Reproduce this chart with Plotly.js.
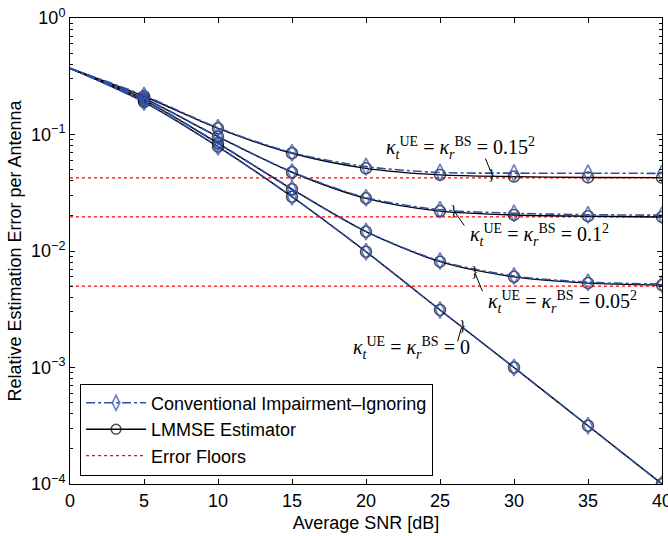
<!DOCTYPE html>
<html><head><meta charset="utf-8">
<script src="https://cdn.plot.ly/plotly-3.0.1.min.js"></script>
<style>html,body{margin:0;padding:0;background:#fff}</style>
</head><body><div id="chart" style="width:668px;height:536px"></div>
<script>
// ---- data ----
const snr = [0, 5, 10, 15, 20, 25, 30, 35, 40];

const lmmseK0    = [0.37, 0.190, 0.0786, 0.0292, 0.00986, 0.00312, 0.00100, 0.000316, 0.000100];
const convK0     = [0.37, 0.190, 0.0786, 0.0292, 0.00986, 0.00312, 0.00100, 0.000316, 0.000100];
const lmmseK005  = [0.37, 0.197, 0.0840, 0.0339, 0.01465, 0.00810, 0.00600, 0.00530, 0.00510];
const convK005   = [0.37, 0.198, 0.0845, 0.0340, 0.01470, 0.00820, 0.00610, 0.00540, 0.00520];
const lmmseK01   = [0.37, 0.204, 0.0957, 0.0474, 0.0283, 0.0220, 0.0204, 0.0199, 0.0196];
const convK01    = [0.37, 0.205, 0.0960, 0.0477, 0.0287, 0.0226, 0.0211, 0.0205, 0.0203];
const lmmseK015  = [0.37, 0.213, 0.1130, 0.0690, 0.0512, 0.0450, 0.0435, 0.0428, 0.0426];
const convK015   = [0.37, 0.216, 0.1140, 0.0698, 0.0530, 0.0472, 0.0466, 0.0465, 0.0464];

const floors = [0.0425, 0.0196, 0.0050];

const xTickVals = [0, 5, 10, 15, 20, 25, 30, 35, 40];
const yTickVals = [1e-4, 1e-3, 1e-2, 1e-1, 1];
const yTickText = ['10<sup>−4</sup>', '10<sup>−3</sup>', '10<sup>−2</sup>', '10<sup>−1</sup>', '10<sup>0</sup>'];

const legendNames = ['Conventional Impairment–Ignoring', 'LMMSE Estimator', 'Error Floors'];

// annotation labels and where they point
const labelTexts = [
  '<i>κ</i><sub><i>t</i></sub><sup>UE</sup> = <i>κ</i><sub><i>r</i></sub><sup>BS</sup> = 0.15<sup>2</sup>',
  '<i>κ</i><sub><i>t</i></sub><sup>UE</sup> = <i>κ</i><sub><i>r</i></sub><sup>BS</sup> = 0.1<sup>2</sup>',
  '<i>κ</i><sub><i>t</i></sub><sup>UE</sup> = <i>κ</i><sub><i>r</i></sub><sup>BS</sup> = 0.05<sup>2</sup>',
  '<i>κ</i><sub><i>t</i></sub><sup>UE</sup> = <i>κ</i><sub><i>r</i></sub><sup>BS</sup> = 0'
];
const labelX = [26.4, 31.7, 33.3, 23.1];
const labelY = [0.0766, 0.01372, 0.00365, 0.00147];
const pointX = [28.5, 25.9, 27.3, 26.5];
const pointY = [0.0458, 0.0225, 0.00678, 0.00232];
const tailDX = [-7, 12, 9, -5];
const tailDY = [-17, 17, 22, 18];

// ---- styling ----
const BLUE = '#3050a8';
const FONT = 'Liberation Sans, Arial, Helvetica, sans-serif';
const SERIF = 'Liberation Serif, Times New Roman, serif';
const circleSizes = snr.map((v, i) => i === 0 ? 0 : 11);
const diamondSizes = snr.map((v, i) => i === 0 ? 0 : 12);

const traces = [];

// error floors (one trace, gaps between lines)
const fx = [], fy = [];
floors.forEach((f, i) => {
  if (i > 0) { fx.push(null); fy.push(null); }
  fx.push(snr[0], snr[snr.length - 1]);
  fy.push(f, f);
});
traces.push({
  x: fx, y: fy, mode: 'lines', name: legendNames[2], legendrank: 3,
  line: {color: '#ff0000', dash: 'dot', width: 1.3}, connectgaps: false
});

const lmmseSets = [lmmseK0, lmmseK005, lmmseK01, lmmseK015];
const convSets = [convK0, convK005, convK01, convK015];

lmmseSets.forEach((ys, i) => {
  traces.push({
    x: snr, y: ys, mode: 'lines+markers', name: legendNames[1],
    showlegend: i === 0, legendrank: 2,
    line: {color: '#000000', width: 1.4, shape: 'spline', smoothing: 0.8},
    marker: {symbol: 'circle-open', size: circleSizes, color: '#000000', line: {width: 1.5, color: '#000000'}}
  });
});
convSets.forEach((ys, i) => {
  traces.push({
    x: snr, y: ys, mode: 'lines+markers', name: legendNames[0],
    showlegend: i === 0, legendrank: 1,
    line: {color: BLUE, width: 1.6, dash: 'dashdot', shape: 'spline', smoothing: 0.8},
    marker: {symbol: 'diamond-tall-open', size: diamondSizes, color: BLUE, line: {width: 1.7, color: BLUE}}
  });
});

const annotations = [];
labelTexts.forEach((t, i) => {
  annotations.push({
    x: labelX[i], y: Math.log10(labelY[i]), xref: 'x', yref: 'y',
    text: t, showarrow: false, font: {family: SERIF, size: 20, color: '#000'},
    xanchor: 'center', yanchor: 'middle'
  });
  annotations.push({
    x: pointX[i], y: Math.log10(pointY[i]), xref: 'x', yref: 'y',
    text: '}', showarrow: false, font: {family: SERIF, size: 15, color: '#000'},
    xanchor: 'center', yanchor: 'middle'
  });
  annotations.push({
    x: pointX[i], y: Math.log10(pointY[i]), xref: 'x', yref: 'y',
    text: '', showarrow: true, arrowhead: 0, arrowwidth: 1, arrowcolor: '#000',
    ax: tailDX[i], ay: tailDY[i], standoff: 3
  });
});

const layout = {
  width: 668, height: 536,
  margin: {l: 70, r: 6, t: 18, b: 52},
  paper_bgcolor: '#ffffff', plot_bgcolor: '#ffffff',
  font: {family: FONT, size: 18, color: '#000'},
  showlegend: true,
  legend: {
    x: 0.017, y: 0.018, xanchor: 'left', yanchor: 'bottom',
    bgcolor: '#ffffff', bordercolor: '#000000', borderwidth: 1,
    font: {family: FONT, size: 18, color: '#000'},
    itemwidth: 60, tracegroupgap: 0
  },
  xaxis: {
    range: [0, 40], tickvals: xTickVals, ticks: 'inside', ticklen: 5, tickcolor: '#000',
    showline: true, linecolor: '#000', linewidth: 1, mirror: 'ticks',
    showgrid: false, zeroline: false, ticklabeloverflow: 'allow',
    tickfont: {family: FONT, size: 18},
    title: {text: 'Average SNR [dB]', font: {family: FONT, size: 18}, standoff: 6}
  },
  yaxis: {
    type: 'log', range: [-4, 0], tickvals: yTickVals, ticktext: yTickText,
    ticks: 'inside', ticklen: 5, tickcolor: '#000',
    showline: true, linecolor: '#000', linewidth: 1, mirror: 'ticks',
    showgrid: false, zeroline: false, ticklabeloverflow: 'allow',
    minor: {ticks: 'inside', ticklen: 3, tickcolor: '#000', dtick: 'D1', showgrid: false},
    tickfont: {family: FONT, size: 18},
    title: {text: 'Relative Estimation Error per Antenna', font: {family: FONT, size: 18}, standoff: 4}
  },
  annotations: annotations
};

Plotly.newPlot('chart', traces, layout, {displayModeBar: false, staticPlot: true});
</script>
</body></html>
